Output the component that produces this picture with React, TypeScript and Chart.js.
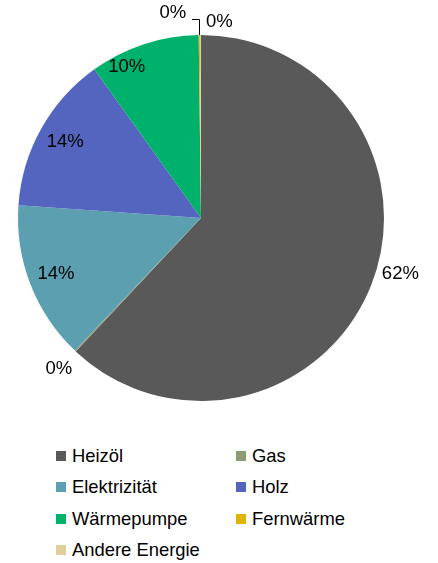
import React, { useEffect, useRef } from "react";
import { Chart, registerables } from "chart.js";

Chart.register(...registerables);

const categories = ["Heizöl", "Gas", "Elektrizität", "Holz", "Wärmepumpe", "Fernwärme", "Andere Energie"];
const shares = [62.0, 0.1, 14.0, 14.0, 9.7, 0.1, 0.1];
const colors = ["#595959", "#8B9C72", "#5B9FB1", "#5465BF", "#00B16B", "#E2B400", "#DDCF9E"];

// label placement style per slice (presentation only)
const labelModes = ["outside", "outside", "inside", "inside", "inside", "leader", "topRight"];
const labelAngleNudgeDeg = [-6, 0, 0, 0, -8, 0, 0];
const labelRadiusFactor = [1, 1, 0.85, 0.85, 0.92, 1, 1];

const FONT = '"Liberation Sans", Arial, sans-serif';

const sliceLabels = {
  id: "sliceLabels",
  afterDatasetsDraw(chart: any) {
    const ctx = chart.ctx;
    const meta = chart.getDatasetMeta(0);
    const data = chart.data.datasets[0].data as number[];
    const total = data.reduce((a, b) => a + b, 0);
    ctx.save();
    ctx.font = `18.5px ${FONT}`;
    ctx.fillStyle = "#000";
    ctx.strokeStyle = "#000";
    ctx.lineWidth = 1;
    meta.data.forEach((arc: any, i: number) => {
      const p = arc.getProps(["x", "y", "startAngle", "endAngle", "outerRadius"], true);
      const text = Math.round((data[i] / total) * 100) + "%";
      const mid = (p.startAngle + p.endAngle) / 2 + (labelAngleNudgeDeg[i] * Math.PI) / 180;
      const c = Math.cos(mid);
      const s = Math.sin(mid);
      const mode = labelModes[i];
      if (mode === "inside") {
        const r = p.outerRadius * labelRadiusFactor[i];
        ctx.textAlign = "center";
        ctx.textBaseline = "middle";
        ctx.fillText(text, p.x + c * r, p.y + s * r);
      } else if (mode === "outside") {
        const r = p.outerRadius + 24;
        ctx.textAlign = "center";
        ctx.textBaseline = "middle";
        ctx.fillText(text, p.x + c * r, p.y + s * r);
      } else {
        const px = p.x + c * p.outerRadius;
        const py = p.y + s * p.outerRadius;
        if (mode === "leader") {
          ctx.beginPath();
          ctx.moveTo(Math.round(px) + 0.5, py);
          ctx.lineTo(Math.round(px) + 0.5, Math.round(py - 16) + 0.5);
          ctx.lineTo(Math.round(px) - 7, Math.round(py - 16) + 0.5);
          ctx.stroke();
          ctx.textAlign = "right";
          ctx.textBaseline = "middle";
          ctx.fillText(text, px - 13, py - 22);
        } else {
          ctx.textAlign = "center";
          ctx.textBaseline = "middle";
          ctx.fillText(text, px + 19, py - 13);
        }
      }
    });
    ctx.restore();
  },
};

export default function App() {
  const canvasRef = useRef<HTMLCanvasElement | null>(null);

  useEffect(() => {
    if (!canvasRef.current) return;
    const chart = new Chart(canvasRef.current, {
      type: "pie",
      data: {
        labels: categories,
        datasets: [
          {
            data: shares,
            backgroundColor: colors,
            borderWidth: 0,
          },
        ],
      },
      options: {
        responsive: false,
        animation: false,
        layout: { padding: { left: 18, right: 54, top: 35, bottom: 24 } },
        plugins: {
          legend: { display: false },
          tooltip: { enabled: false },
        },
      },
      plugins: [sliceLabels],
    });
    return () => chart.destroy();
  }, []);

  return (
    <div
      style={{
        position: "fixed",
        left: 0,
        top: 0,
        width: 438,
        height: 563,
        background: "#fff",
        fontFamily: FONT,
      }}
    >
      <canvas ref={canvasRef} width={438} height={425} style={{ display: "block" }} />
      {categories.map((name, i) => {
        const col = i % 2;
        const row = Math.floor(i / 2);
        const left = col === 0 ? 56 : 236;
        const cy = 456 + row * 31.3;
        return (
          <div
            key={name}
            style={{
              position: "absolute",
              left,
              top: cy - 12,
              height: 24,
              display: "flex",
              alignItems: "center",
              whiteSpace: "nowrap",
              fontSize: 18.4,
              color: "#000",
            }}
          >
            <span
              style={{
                display: "inline-block",
                width: 10,
                height: 10,
                background: colors[i],
                marginRight: 6,
              }}
            />
            <span>{name}</span>
          </div>
        );
      })}
    </div>
  );
}
